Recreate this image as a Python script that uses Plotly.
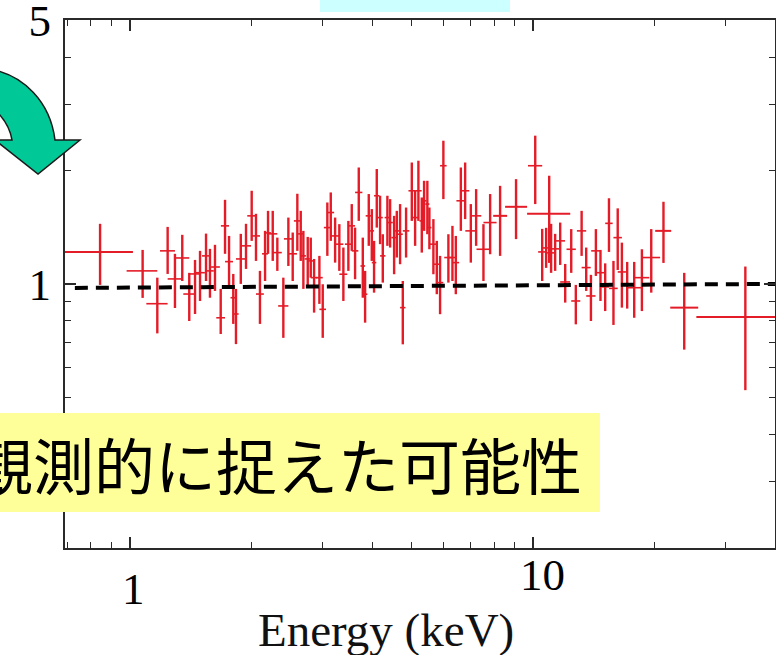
import math
import plotly.graph_objects as go

# ---------------- data ----------------
# densely binned ratio points (energy in keV, data/model ratio, lower and upper error bounds)
energy_narrow = [1.075, 1.169, 1.240, 1.293, 1.348, 1.403, 1.450, 1.492, 1.544, 1.579,
                 1.625, 1.679, 1.721, 1.761, 1.804, 1.832, 1.883, 1.940, 2.004, 2.054,
                 2.101, 2.163, 2.200, 2.260, 2.320, 2.401, 2.471, 2.533, 2.601, 2.652,
                 2.692, 2.760, 2.808, 2.862, 2.950, 3.007, 3.087, 3.148, 3.227, 3.306,
                 3.383, 3.481, 3.549, 3.617, 3.694, 3.780, 3.830, 3.911, 3.979, 4.031,
                 4.094, 4.172, 4.237, 4.350, 4.418, 4.520, 4.590, 4.677, 4.750, 4.840,
                 5.001, 5.096, 5.193, 5.294, 5.364, 5.465, 5.529, 5.657, 5.768, 5.877,
                 5.989, 6.163, 6.307, 6.430, 6.617, 6.782, 7.005, 7.221, 7.529, 7.822,
                 10.12, 10.53, 10.77, 11.08, 11.34, 11.67, 12.01, 12.43, 12.76, 13.19,
                 13.54, 13.91, 14.31, 14.69, 15.09, 15.42, 15.82, 16.21, 16.60, 17.11,
                 17.81, 18.61, 19.63]
ratio_narrow = [1.085, 0.888, 1.226, 1.033, 1.174, 0.942, 1.065, 1.073, 1.189, 1.085,
                1.111, 0.815, 1.428, 1.148, 0.921, 0.834, 1.167, 1.264, 1.518, 1.343,
                0.942, 1.204, 1.368, 1.360, 1.213, 0.876, 1.319, 1.204, 1.472, 1.360,
                1.189, 1.167, 1.153, 1.041, 1.041, 0.858, 1.413, 1.549, 1.343, 1.277,
                1.063, 1.277, 1.428, 1.226, 1.751, 1.118, 0.941, 1.518, 1.385, 1.141,
                1.716, 1.502, 1.189, 1.502, 1.457, 1.329, 1.385, 1.357, 0.867, 1.385,
                1.769, 1.502, 1.769, 1.472, 1.664, 1.631, 1.413, 1.277, 1.130, 1.010,
                2.061, 1.177, 1.177, 1.141, 1.664, 1.769, 1.385, 1.518, 1.238, 1.457,
                2.061, 1.218, 1.248, 1.211, 1.241, 1.303, 1.014, 1.238, 0.903, 1.385,
                1.107, 0.931, 1.226, 1.073, 0.984, 1.450, 0.975, 1.329, 1.078, 1.002,
                0.979, 1.041, 1.177]
ratio_narrow_lo = [0.920, 0.741, 1.065, 0.865, 1.020, 0.799, 0.834, 0.903, 1.020, 0.921,
                   0.960, 0.738, 1.204, 0.979, 0.785, 0.694, 1.002, 1.098, 1.303, 1.153,
                   0.785, 1.020, 1.204, 1.153, 1.085, 0.721, 1.118, 1.020, 1.226, 1.153,
                   0.972, 0.978, 1.041, 0.841, 0.887, 0.721, 1.189, 1.303, 1.141, 1.085,
                   0.903, 1.085, 1.226, 1.031, 1.472, 0.921, 0.791, 1.264, 1.153, 0.950,
                   1.413, 1.277, 1.010, 1.264, 1.251, 1.063, 1.177, 1.130, 0.693, 1.177,
                   1.472, 1.264, 1.472, 1.213, 1.385, 1.357, 1.238, 1.063, 0.941, 0.833,
                   1.681, 1.010, 1.020, 0.941, 1.385, 1.488, 1.141, 1.264, 1.020, 1.201,
                   1.631, 1.020, 1.105, 1.072, 1.085, 1.125, 0.894, 1.072, 0.783, 1.189,
                   0.960, 0.799, 1.052, 0.903, 0.849, 1.218, 0.780, 1.091, 0.867, 0.862,
                   0.815, 0.849, 0.950]
ratio_narrow_hi = [1.233, 1.041, 1.419, 1.204, 1.352, 1.072, 1.160, 1.226, 1.362, 1.241,
                   1.272, 0.972, 1.674, 1.343, 1.065, 0.972, 1.360, 1.446, 1.769, 1.537,
                   1.085, 1.385, 1.565, 1.565, 1.329, 1.041, 1.502, 1.371, 1.737, 1.565,
                   1.385, 1.335, 1.329, 1.167, 1.189, 1.000, 1.647, 1.751, 1.502, 1.443,
                   1.251, 1.472, 1.631, 1.413, 2.039, 1.329, 1.085, 1.734, 1.582, 1.303,
                   2.020, 1.716, 1.357, 1.716, 1.681, 1.518, 1.565, 1.631, 1.020, 1.597,
                   2.102, 1.769, 2.125, 1.698, 1.880, 1.880, 1.597, 1.488, 1.303, 1.189,
                   2.401, 1.357, 1.428, 1.343, 2.039, 2.102, 1.631, 1.787, 1.443, 1.734,
                   2.476, 1.402, 1.411, 1.446, 1.360, 1.457, 1.132, 1.400, 0.996, 1.565,
                   1.251, 1.059, 1.400, 1.233, 1.136, 1.690, 1.153, 1.589, 1.289, 1.146,
                   1.146, 1.238, 1.400]

# wide bins (energy centre, bin edges, ratio and error bounds)
energy_wide = [0.843, 8.28, 9.07, 10.96, 21.05, 23.70, 33.6]
energy_wide_lo = [0.680, 7.96, 8.52, 9.66, 20.08, 21.88, 25.4]
energy_wide_hi = [1.017, 8.62, 9.66, 12.36, 22.0, 25.67, 40.5]
ratio_wide = [1.218, 1.518, 1.604, 1.537, 1.385, 0.867, 0.819]
ratio_wide_lo = [0.996, 1.189, 1.317, 1.139, 1.139, 0.671, 0.524]
ratio_wide_hi = [1.446, 1.823, 1.899, 1.939, 1.654, 1.072, 1.114]

# model (dashed line)
model_energy = [0.73, 40.0]
model_ratio = [0.978, 1.002]

x_ticks = [1, 10]
x_ticktext = ["1", "10"]
x_minor = [0.7, 0.8, 0.9, 2, 3, 4, 5, 6, 7, 8, 9, 20, 30]
y_ticks = [1, 5]
y_ticktext = ["1", "5"]
y_minor = [0.2, 0.3, 0.4, 0.5, 0.6, 0.7, 0.8, 0.9, 2, 3, 4]

x_title = "Energy (keV)"
banner_text = "観測的に捉えた可能性"

# ---------------- figure ----------------
W, H = 776, 655
ML, MR, MT, MB = 65, 1, 20, 107
PW, PH = W - ML - MR, H - MT - MB

RED = "rgb(228,28,40)"

# x half-widths of the narrow bins from the spacing to the neighbouring bins
xerr_narrow = []
n = len(energy_narrow)
for i in range(n):
    gaps = []
    if i > 0:
        gaps.append(energy_narrow[i] - energy_narrow[i - 1])
    if i < n - 1:
        gaps.append(energy_narrow[i + 1] - energy_narrow[i])
    xerr_narrow.append(min(gaps))

fig = go.Figure()

fig.add_trace(go.Scatter(
    x=energy_narrow, y=ratio_narrow, mode="markers",
    marker=dict(size=1, color=RED),
    error_y=dict(type="data", symmetric=False,
                 array=[h - r for h, r in zip(ratio_narrow_hi, ratio_narrow)],
                 arrayminus=[r - l for r, l in zip(ratio_narrow, ratio_narrow_lo)],
                 color=RED, thickness=2.4, width=0),
    error_x=dict(type="data", array=xerr_narrow, color=RED, thickness=1.6, width=0),
    showlegend=False, hoverinfo="skip"))

fig.add_trace(go.Scatter(
    x=energy_wide, y=ratio_wide, mode="markers",
    marker=dict(size=1, color=RED),
    error_y=dict(type="data", symmetric=False,
                 array=[h - r for h, r in zip(ratio_wide_hi, ratio_wide)],
                 arrayminus=[r - l for r, l in zip(ratio_wide, ratio_wide_lo)],
                 color=RED, thickness=2.4, width=0),
    error_x=dict(type="data", symmetric=False,
                 array=[h - e for h, e in zip(energy_wide_hi, energy_wide)],
                 arrayminus=[e - l for e, l in zip(energy_wide, energy_wide_lo)],
                 color=RED, thickness=2, width=0),
    showlegend=False, hoverinfo="skip"))

fig.add_trace(go.Scatter(
    x=model_energy, y=model_ratio, mode="lines",
    line=dict(color="black", width=4, dash="13px,8px"),
    showlegend=False, hoverinfo="skip"))

SERIF = "Liberation Serif, Times New Roman, serif"
AXC = "#2a2a2a"


def px_to_paper(px, py):
    return (px - ML) / PW, (H - MB - py) / PH


def path_from_px(cmds):
    out = []
    for c in cmds:
        if isinstance(c, str):
            out.append(c)
        else:
            x, y = px_to_paper(*c)
            out.append(f"{x:.4f},{y:.4f}")
    return " ".join(out)


arrow_path = path_from_px([
    "M", (-6, 70),
    "C", (22, 76), (50, 100), (55, 140),
    "L", (80, 140),
    "L", (38, 174),
    "L", (-5, 140),
    "L", (12, 140),
    "C", (10, 128), (4, 118), (-6, 109),
    "Z"])

yb0 = px_to_paper(-2, 512)
yb1 = px_to_paper(600, 413)
cb0 = px_to_paper(320, 12)
cb1 = px_to_paper(510, -2)

shapes = [
    dict(type="rect", xref="paper", yref="paper", x0=yb0[0], y0=yb0[1], x1=yb1[0], y1=yb1[1],
         fillcolor="#ffff99", line=dict(width=0), layer="above"),
    dict(type="rect", xref="paper", yref="paper", x0=cb0[0], y0=cb0[1], x1=cb1[0], y1=cb1[1],
         fillcolor="#ccffff", line=dict(width=0), layer="above"),
    dict(type="path", xref="paper", yref="paper", path=arrow_path,
         fillcolor="#00c896", line=dict(color="#1a1a1a", width=1.5), layer="above"),
]

tx, ty = px_to_paper(277, 463)
ex, ey = px_to_paper(386, 630)
_, lab1_y = px_to_paper(0, 589)
_, lab10_y = px_to_paper(0, 575)
annotations = [
    dict(text=banner_text, xref="paper", yref="paper", x=tx, y=ty,
         xanchor="center", yanchor="middle", showarrow=False,
         font=dict(family="Noto Sans CJK JP", size=61, color="black")),
    dict(text=x_title, xref="paper", yref="paper", x=ex, y=ey,
         xanchor="center", yanchor="middle", showarrow=False,
         font=dict(family=SERIF, size=47, color="#111")),
    # x tick labels (placed individually, as in the original slide)
    dict(text=x_ticktext[0], xref="x", yref="paper", x=math.log10(x_ticks[0]) + 0.008, y=lab1_y,
         xanchor="center", yanchor="middle", showarrow=False,
         font=dict(family=SERIF, size=45, color="black")),
    dict(text=x_ticktext[1], xref="x", yref="paper", x=math.log10(x_ticks[1]) + 0.022, y=lab10_y,
         xanchor="center", yanchor="middle", showarrow=False,
         font=dict(family=SERIF, size=45, color="black")),
]

fig.update_layout(
    width=W, height=H,
    margin=dict(l=ML, r=MR, t=MT, b=MB, pad=0, autoexpand=False),
    paper_bgcolor="white", plot_bgcolor="white",
    shapes=shapes, annotations=annotations,
    xaxis=dict(type="log", range=[math.log10(0.69), math.log10(39.8)], automargin=False,
               showline=True, linecolor=AXC, linewidth=2, mirror="allticks",
               ticks="inside", ticklen=11, tickwidth=1.5, tickcolor=AXC,
               tickmode="array", tickvals=x_ticks, showticklabels=False,
               minor=dict(tickmode="array", tickvals=x_minor, ticks="inside",
                          ticklen=6, tickwidth=1.2, tickcolor=AXC, showgrid=False),
               showgrid=False, zeroline=False),
    yaxis=dict(type="log", range=[math.log10(0.2), math.log10(5.015)], automargin=False,
               showline=True, linecolor=AXC, linewidth=2, mirror="allticks",
               ticks="inside", ticklen=11, tickwidth=1.5, tickcolor=AXC,
               tickmode="array", tickvals=y_ticks, ticktext=y_ticktext,
               tickfont=dict(family=SERIF, size=45, color="black"),
               ticklabelstandoff=3, ticklabeloverflow="allow",
               minor=dict(tickmode="array", tickvals=y_minor, ticks="inside",
                          ticklen=6, tickwidth=1.2, tickcolor=AXC, showgrid=False),
               showgrid=False, zeroline=False),
)

fig.write_html("out.html")
